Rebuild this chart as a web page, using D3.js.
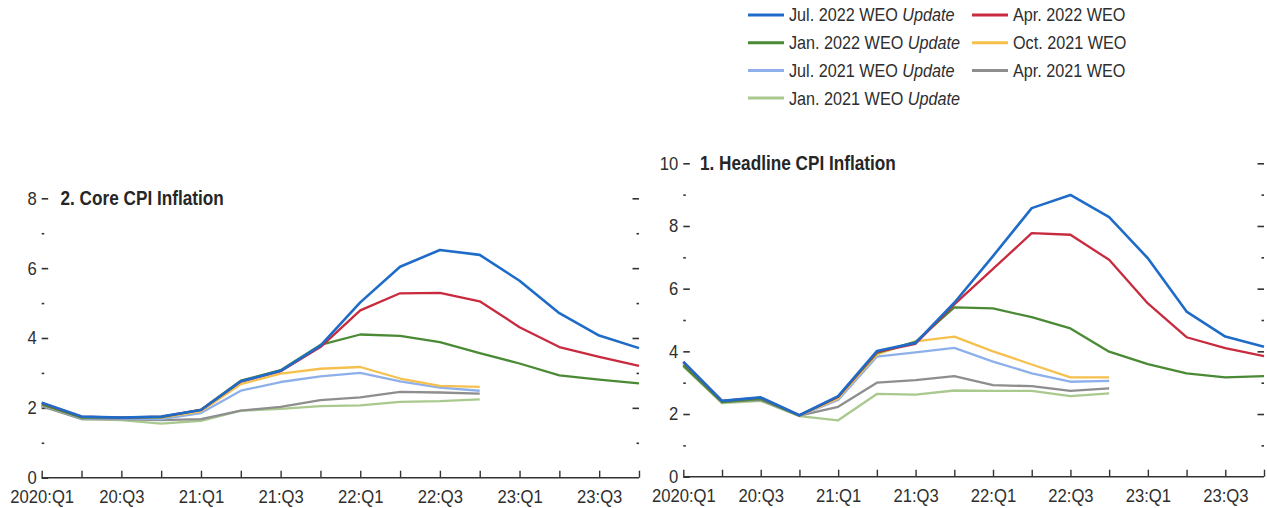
<!DOCTYPE html>
<html>
<head>
<meta charset="utf-8">
<script src="https://cdn.jsdelivr.net/npm/d3@7"></script>
<style>
  html, body { margin: 0; padding: 0; background: #fff; }
  svg { display: block; }
  text { font-family: "Liberation Sans", Arial, sans-serif; fill: #2e2e2e; }
  .title { font-weight: bold; fill: #262626; }
</style>
</head>
<body>
<svg id="chart" width="1267" height="508"></svg>
<script>
// Quarters on the x axis and the ones that carry a label
const quarters = ["2020:Q1","2020:Q2","2020:Q3","2020:Q4","2021:Q1","2021:Q2","2021:Q3","2021:Q4",
                  "2022:Q1","2022:Q2","2022:Q3","2022:Q4","2023:Q1","2023:Q2","2023:Q3","2023:Q4"];
const quarterLabels = {"2020:Q1":"2020:Q1","2020:Q3":"20:Q3","2021:Q1":"21:Q1","2021:Q3":"21:Q3",
                       "2022:Q1":"22:Q1","2022:Q3":"22:Q3","2023:Q1":"23:Q1","2023:Q3":"23:Q3"};

// WEO vintages (legend order, column by column)
const vintages = [
  {key: "jul22", name: "Jul. 2022 WEO", italic: "Update", color: "#1f6cc8", width: 2.6},
  {key: "jan22", name: "Jan. 2022 WEO", italic: "Update", color: "#4a8a34", width: 2.3},
  {key: "jul21", name: "Jul. 2021 WEO", italic: "Update", color: "#8eb0ea", width: 2.3},
  {key: "jan21", name: "Jan. 2021 WEO", italic: "Update", color: "#a9c98f", width: 2.3},
  {key: "apr22", name: "Apr. 2022 WEO", italic: "",       color: "#c82a3e", width: 2.3},
  {key: "oct21", name: "Oct. 2021 WEO", italic: "",       color: "#f6c04e", width: 2.3},
  {key: "apr21", name: "Apr. 2021 WEO", italic: "",       color: "#8e8e8e", width: 2.3}
];
// Drawing order: oldest vintages underneath
const drawOrder = ["jan21","apr21","jul21","oct21","jan22","apr22","jul22"];

// Panel 1: headline CPI inflation (percent), quarterly from 2020:Q1
const headlineJul22 = [3.67,2.42,2.53,1.96,2.57,4.01,4.27,5.55,7.04,8.57,8.99,8.28,6.97,5.27,4.47,4.15];
const headlineApr22 = [3.65,2.42,2.52,1.96,2.55,3.98,4.24,5.50,6.63,7.77,7.72,6.92,5.53,4.45,4.10,3.85];
const headlineJan22 = [3.55,2.38,2.48,1.95,2.55,3.95,4.30,5.40,5.37,5.09,4.73,3.99,3.59,3.30,3.17,3.21];
const headlineOct21 = [3.60,2.40,2.50,1.95,2.50,3.90,4.32,4.47,4.00,3.58,3.17,3.17];
const headlineJul21 = [3.60,2.40,2.50,1.95,2.45,3.83,3.97,4.11,3.67,3.30,3.03,3.06];
const headlineApr21 = [3.55,2.38,2.45,1.95,2.23,3.00,3.08,3.21,2.92,2.89,2.74,2.82];
const headlineJan21 = [3.52,2.35,2.42,1.93,1.80,2.64,2.62,2.75,2.74,2.74,2.57,2.66];

// Panel 2: core CPI inflation (percent), quarterly from 2020:Q1
const coreJul22 = [2.15,1.75,1.72,1.75,1.94,2.76,3.06,3.78,5.02,6.04,6.52,6.38,5.64,4.71,4.07,3.71];
const coreApr22 = [2.14,1.75,1.72,1.75,1.94,2.75,3.05,3.74,4.79,5.28,5.29,5.05,4.31,3.74,3.46,3.20];
const coreJan22 = [2.10,1.72,1.72,1.73,1.95,2.78,3.08,3.80,4.10,4.06,3.88,3.57,3.27,2.93,2.81,2.70];
const coreOct21 = [2.10,1.72,1.72,1.72,1.90,2.68,2.98,3.12,3.17,2.84,2.63,2.60];
const coreJul21 = [2.08,1.70,1.70,1.68,1.85,2.49,2.74,2.90,3.00,2.76,2.58,2.49];
const coreApr21 = [2.05,1.68,1.68,1.65,1.68,1.92,2.03,2.22,2.30,2.46,2.44,2.41];
const coreJan21 = [2.05,1.68,1.65,1.55,1.63,1.92,1.97,2.05,2.07,2.17,2.19,2.24];

const headlineSeries = {jul22: headlineJul22, apr22: headlineApr22, jan22: headlineJan22, oct21: headlineOct21,
                        jul21: headlineJul21, apr21: headlineApr21, jan21: headlineJan21};
const coreSeries = {jul22: coreJul22, apr22: coreApr22, jan22: coreJan22, oct21: coreOct21,
                    jul21: coreJul21, apr21: coreApr21, jan21: coreJan21};

const coreTicks = [0, 2, 4, 6, 8];
const coreMinor = [1, 3, 5, 7];
const headlineTicks = [0, 2, 4, 6, 8, 10];
const headlineMinor = [1, 3, 5, 7, 9];

// narrow type: squeeze text horizontally around its anchor
const SQUEEZE = 0.9;
const TITLE_SQUEEZE = 0.86;
const squeeze = sel => sel.attr("transform", `scale(${SQUEEZE},1)`)
  .attr("x", function () { return (+d3.select(this).attr("x") || 0) / SQUEEZE; });

const svg = d3.select("#chart");

function drawPanel(cfg) {
  const x = d3.scalePoint().domain(quarters).range([cfg.left, cfg.right]);
  const y = d3.scaleLinear().domain([0, cfg.max]).range([cfg.bottom, cfg.top]);
  const g = svg.append("g");

  // left axis: inward ticks, labels on the outside
  const yl = g.append("g").attr("transform", `translate(${cfg.left},0)`)
    .call(d3.axisLeft(y).tickValues(cfg.ticks).tickSize(-6.5).tickPadding(5).tickFormat(d3.format("d")));
  yl.select(".domain").remove();
  yl.selectAll("text").style("font-size", "18.5px").call(squeeze);
  const ylm = g.append("g").attr("transform", `translate(${cfg.left},0)`)
    .call(d3.axisLeft(y).tickValues(cfg.minor).tickSize(-2.5).tickFormat(""));
  ylm.select(".domain").remove();

  // right axis: ticks only
  const yr = g.append("g").attr("transform", `translate(${cfg.right},0)`)
    .call(d3.axisRight(y).tickValues(cfg.ticks.filter(d => d > 0)).tickSize(-6.5).tickFormat(""));
  yr.select(".domain").remove();
  const yrm = g.append("g").attr("transform", `translate(${cfg.right},0)`)
    .call(d3.axisRight(y).tickValues(cfg.minor).tickSize(-2.5).tickFormat(""));
  yrm.select(".domain").remove();

  [yl, ylm, yr, yrm].forEach(a => a.selectAll("line").attr("stroke", "#333").attr("stroke-width", 1.6));

  // bottom axis
  const xa = g.append("g").attr("transform", `translate(0,${cfg.bottom})`)
    .call(d3.axisBottom(x).tickSize(-7).tickPadding(12).tickFormat(d => quarterLabels[d] || ""));
  xa.select(".domain").attr("stroke", "#333").attr("stroke-width", 1.6)
    .attr("d", `M${cfg.left},0H${cfg.right}`);
  xa.selectAll("line").attr("stroke", "#333").attr("stroke-width", 1.4);
  xa.selectAll("text").style("font-size", "18.5px").call(squeeze);

  // series lines
  const line = d3.line().x((d, i) => x(quarters[i])).y(d => y(d));
  drawOrder.forEach(k => {
    const v = vintages.find(s => s.key === k);
    g.append("path").datum(cfg.series[k])
      .attr("fill", "none").attr("stroke", v.color).attr("stroke-width", v.width)
      .attr("stroke-linejoin", "round").attr("d", line);
  });

  // panel title aligned with the top tick
  g.append("g").attr("transform", `translate(${cfg.titleX},${y(cfg.max)}) scale(${TITLE_SQUEEZE},1)`)
    .append("text").attr("class", "title").attr("dy", "0.35em")
    .style("font-size", "20px").text(cfg.title);
}

drawPanel({title: "2. Core CPI Inflation", series: coreSeries, max: 8, ticks: coreTicks, minor: coreMinor,
           left: 41.7, right: 639, top: 198.3, bottom: 477.7, titleX: 60.5});
drawPanel({title: "1. Headline CPI Inflation", series: headlineSeries, max: 10, ticks: headlineTicks, minor: headlineMinor,
           left: 683.3, right: 1264, top: 163.3, bottom: 476.7, titleX: 700});

// legend
const legendCols = [[0,1,2,3],[4,5,6]];
const colX = [748, 972];
legendCols.forEach((col, ci) => {
  col.forEach((vi, ri) => {
    const v = vintages[vi];
    const yy = 15 + ri * 27.7;
    const lg = svg.append("g").attr("transform", `translate(${colX[ci]},${yy})`);
    lg.append("line").attr("x1", 0).attr("x2", 36).attr("y1", 0).attr("y2", 0)
      .attr("stroke", v.color).attr("stroke-width", 3);
    const t = lg.append("g").attr("transform", `translate(41,0) scale(${SQUEEZE},1)`)
      .append("text").attr("dy", "0.36em").style("font-size", "18px");
    t.append("tspan").text(v.name);
    if (v.italic) t.append("tspan").style("font-style", "italic").text(" " + v.italic);
  });
});
</script>
</body>
</html>
